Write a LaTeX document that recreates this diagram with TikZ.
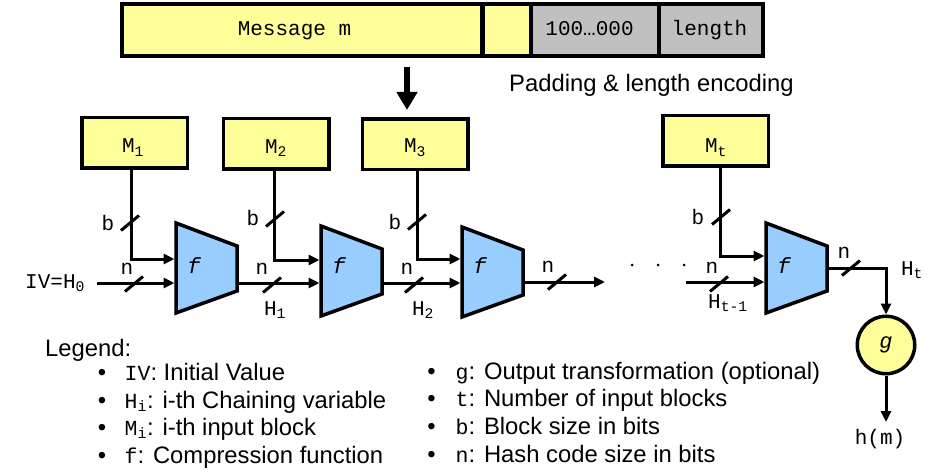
\documentclass[tikz,border=0pt]{standalone}
\usepackage{fontspec}
\setmainfont{Liberation Sans}
\setmonofont{Liberation Mono}
\usetikzlibrary{arrows.meta}
\definecolor{boxyellow}{HTML}{FFFF99}
\definecolor{padgray}{HTML}{C0C0C0}
\definecolor{fblue}{HTML}{99CCFF}
\newcommand{\cdf}[1]{{\fontsize{21.5}{26}\ttfamily #1}}
% f block: name, left x, centre y
\newcommand{\fblock}[3]{%
  \draw[fblk] (#2,{#3-45}) -- ({#2+61},{#3-22}) -- ({#2+61},{#3+23}) -- (#2,{#3+45}) -- cycle;
  \node[ftext] (#1) at ({#2+18},266) {f};
}
\begin{document}
\begin{tikzpicture}[x=1pt,y=-1pt,
  conn/.style={line width=3pt, -{Triangle[length=11pt,width=10pt]}},
  bigarrow/.style={line width=6pt, -{Triangle[length=18pt,width=20pt]}},
  barln/.style={draw, line width=3.5pt},
  mbox/.style={draw, line width=3.5pt, fill=boxyellow, minimum width=105.5pt, minimum height=50.5pt, inner sep=0pt},
  lbl/.style={inner sep=0pt, font=\fontsize{21}{25}\ttfamily},
  fblk/.style={draw, line width=3.5pt, fill=fblue, line join=miter},
  ftext/.style={inner sep=0pt, font=\fontsize{22}{26}\ttfamily\itshape},
  gcirc/.style={circle, draw, line width=3.5pt, fill=boxyellow, minimum size=57.5pt, inner sep=0pt, font=\fontsize{22}{26}\ttfamily\itshape},
  legtxt/.style={anchor=base west, inner sep=0pt, font=\fontsize{23.8}{28}\selectfont},
  bul/.style={anchor=base, inner sep=0pt, font=\fontsize{23.8}{28}\selectfont},
  dotmark/.style={circle, fill=black, inner sep=0pt, minimum size=3pt},
  busmark/.pic={\draw[line width=3pt] (-9,7.5) -- (9,-7.5);}
]
\useasboundingbox (0,0) rectangle (947,473);

% ---- message bar ----
\draw[barln, fill=boxyellow] (122,4) rectangle (482,56);
\draw[barln, fill=boxyellow] (482,4) rectangle (531,56);
\draw[barln, fill=padgray] (531,4) rectangle (659,56);
\draw[barln, fill=padgray] (659,4) rectangle (763,56);
\draw[line width=5pt] (482,3) -- (482,57);
\node[lbl, anchor=base] (msgtxt) at (294.5,36) {Message m};
\node[lbl, anchor=base] (padtxt) at (589.5,36) {100…000};
\node[lbl, anchor=base] (lentxt) at (709.5,36) {length};
\node[inner sep=0pt, anchor=base west, font=\fontsize{23.8}{28}\selectfont] (padlbl) at (509,92) {Padding \& length encoding};

\coordinate (dstart) at (407,67);
\coordinate (dend) at (407,110);
\draw[bigarrow] (dstart) -- (dend);

% ---- message blocks ----
\node[mbox] (m1) at (134.5,143) {};
\node[mbox] (m2) at (276,144) {};
\node[mbox] (m3) at (415,144.5) {};
\node[mbox] (mt) at (715.5,141) {};
\node[lbl, anchor=base] (m1t) at (133,153) {M\textsubscript{1}};
\node[lbl, anchor=base] (m2t) at (276,153.5) {M\textsubscript{2}};
\node[lbl, anchor=base] (m3t) at (415,153) {M\textsubscript{3}};
\node[lbl, anchor=base] (mtt) at (716,153) {M\textsubscript{t}};

% ---- compression blocks ----
\fblock{f1}{176}{268}
\fblock{f2}{321}{271}
\fblock{f3}{462}{272}
\fblock{ft}{766}{268}

\coordinate (f1a) at (174.5,259);
\coordinate (f1b) at (174.5,283);
\coordinate (f1o) at (237,283);
\coordinate (f2a) at (319.5,260);
\coordinate (f2b) at (319.5,283);
\coordinate (f2o) at (381,283);
\coordinate (f3a) at (460.5,259);
\coordinate (f3b) at (460.5,283);
\coordinate (f3o) at (523,282);
\coordinate (f3end) at (605,282);
\coordinate (fta) at (764.5,256);
\coordinate (ftb) at (764.5,282);
\coordinate (ftins) at (686,282);
\coordinate (fto) at (827,268);
\coordinate (ivs) at (97,283);

% ---- connectors ----
\draw[conn] ([xshift=-3.5pt]m1.south) |- (f1a);
\draw[conn] ([xshift=-2pt]m2.south) |- (f2a);
\draw[conn] ([xshift=2pt]m3.south) |- (f3a);
\draw[conn] ([xshift=4.5pt]mt.south) |- (fta);
\draw[conn] (ivs) -- (f1b);
\draw[conn] (f1o) -- (f2b);
\draw[conn] (f2o) -- (f3b);
\draw[conn] (f3o) -- (f3end);
\draw[conn] (ftins) -- (ftb);

\node[gcirc] (g) at (886,345) {g};
\coordinate (hmtip) at (886,422);
\draw[conn] (fto) -| (g.north);
\draw[conn] (g.south) -- (hmtip);
\node[lbl, anchor=base] (hm) at (880,444) {h(m)};

% ---- bus width marks ----
\pic at (130,223) {busmark};
\pic at (275,219) {busmark};
\pic at (417,222) {busmark};
\pic at (721,217) {busmark};
\pic at (134,284) {busmark};
\pic at (272,285) {busmark};
\pic at (414,285) {busmark};
\pic at (557,282) {busmark};
\pic at (719,284) {busmark};
\pic at (851,268) {busmark};

% ---- labels ----
\node[lbl] (b1) at (108,223) {b};
\node[lbl] (b2) at (253,218) {b};
\node[lbl] (b3) at (395,222) {b};
\node[lbl] (bt) at (698,217) {b};
\node[lbl] (n0) at (127,269) {n};
\node[lbl] (n1) at (262,269) {n};
\node[lbl] (n2) at (407,269) {n};
\node[lbl] (n3) at (548,267) {n};
\node[lbl] (n4) at (712,268) {n};
\node[lbl] (n5) at (844,253) {n};
\node[lbl, anchor=base west] (iv) at (25,288) {IV=H\textsubscript{0}};
\node[lbl, anchor=base] (h1) at (275,315) {H\textsubscript{1}};
\node[lbl, anchor=base] (h2) at (423,315) {H\textsubscript{2}};
\node[lbl, anchor=base] (htm) at (728,308) {H\textsubscript{t-1}};
\node[lbl, anchor=base] (ht) at (912,275) {H\textsubscript{t}};

\node[dotmark] (d1) at (632,265) {};
\node[dotmark] (d2) at (658,265) {};
\node[dotmark] (d3) at (684,265) {};

% ---- legend ----
\node[legtxt] (leg) at (45,356) {Legend:};
\node[bul] (bl1) at (102,380) {•};
\node[bul] (bl2) at (102,408) {•};
\node[bul] (bl3) at (102,435) {•};
\node[bul] (bl4) at (102,463) {•};
\node[legtxt] (l1) at (124.5,380) {\cdf{IV}: Initial Value};
\node[legtxt] (l2) at (124.5,408) {\cdf{H\textsubscript{i}}: i-th Chaining variable};
\node[legtxt] (l3) at (124.5,435) {\cdf{M\textsubscript{i}}: i-th input block};
\node[legtxt] (l4) at (124.5,463) {\cdf{f}: Compression function};
\node[bul] (br1) at (431.5,379) {•};
\node[bul] (br2) at (431.5,406) {•};
\node[bul] (br3) at (431.5,434) {•};
\node[bul] (br4) at (431.5,462) {•};
\node[legtxt] (r1) at (455.5,379) {\cdf{g}: Output transformation (optional)};
\node[legtxt] (r2) at (455.5,406) {\cdf{t}: Number of input blocks};
\node[legtxt] (r3) at (455.5,434) {\cdf{b}: Block size in bits};
\node[legtxt] (r4) at (455.5,462) {\cdf{n}: Hash code size in bits};
\end{tikzpicture}
\end{document}
